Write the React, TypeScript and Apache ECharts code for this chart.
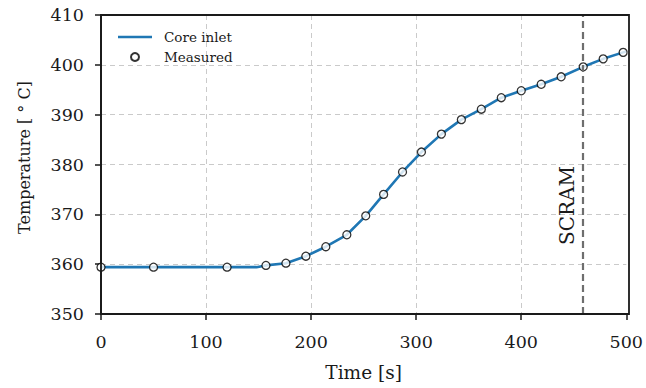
import React, { useEffect, useRef } from "react";
import * as echarts from "echarts";

const measuredTime = [0, 50, 120, 157, 176, 195, 214, 234, 252, 269, 287, 305, 324, 343, 362, 381, 400, 419, 438, 459, 478, 497];
const measuredTemp = [359.4, 359.4, 359.4, 359.75, 360.2, 361.6, 363.5, 365.9, 369.7, 374.0, 378.5, 382.5, 386.1, 389.0, 391.1, 393.4, 394.8, 396.1, 397.6, 399.6, 401.2, 402.5];

const coreTime = [0, 50, 120, 148, 157, 176, 195, 214, 234, 252, 269, 287, 305, 324, 343, 362, 381, 400, 419, 438, 459, 478, 497, 500];
const coreTemp = [359.4, 359.4, 359.4, 359.4, 359.75, 360.2, 361.6, 363.5, 365.9, 369.7, 374.0, 378.5, 382.5, 386.1, 389.0, 391.1, 393.4, 394.8, 396.1, 397.6, 399.6, 401.2, 402.5, 402.7];

const scramTime = 459;
const scramLabel = "SCRAM";

const xTicks = { min: 0, max: 500, interval: 100 };
const yTicks = { min: 350, max: 410, interval: 10 };

const FONT = "DejaVu Serif";
const INK = "#1a1a1a";

const GRID = { left: 101, right: 17, top: 15, bottom: 74 };
const W = 646;
const H = 388;

export default function App() {
  const ref = useRef<HTMLDivElement>(null);

  useEffect(() => {
    if (!ref.current) return;
    const chart = echarts.init(ref.current, null, { renderer: "svg" });
    const axisCommon = {
      axisLine: { show: true, lineStyle: { color: INK, width: 1.8 } },
      axisTick: { show: true, length: 6, lineStyle: { color: INK, width: 1.5 } },
      splitLine: { show: true, showMinLine: false, showMaxLine: false, lineStyle: { color: "#cacaca", width: 1, type: [5, 4] } },
    };
    chart.setOption({
      animation: false,
      backgroundColor: "#ffffff",
      textStyle: { fontFamily: FONT, color: INK },
      grid: { ...GRID },
      graphic: [
        {
          type: "rect",
          silent: true,
          z: 100,
          shape: { x: GRID.left, y: GRID.top, width: W - GRID.left - GRID.right, height: H - GRID.top - GRID.bottom },
          style: { fill: "none", stroke: INK, lineWidth: 1.8 },
        },
      ],
      legend: {
        orient: "vertical",
        left: 113,
        top: 25,
        itemWidth: 34,
        itemHeight: 8,
        itemGap: 6,
        textStyle: { fontFamily: FONT, fontSize: 13.5, color: INK, padding: [0, 0, 0, 7] },
        data: [
          { name: "Core inlet", icon: "path://M0,0 L34,0 L34,2.6 L0,2.6 Z" },
          { name: "Measured", icon: "circle" },
        ],
      },
      xAxis: {
        type: "value",
        min: xTicks.min,
        max: xTicks.max,
        interval: xTicks.interval,
        name: "Time [s]",
        nameLocation: "middle",
        nameGap: 49,
        nameTextStyle: { fontFamily: FONT, fontSize: 18.5, color: INK },
        axisLabel: { fontFamily: FONT, fontSize: 17.5, color: INK, margin: 19 },
        ...axisCommon,
      },
      yAxis: {
        type: "value",
        min: yTicks.min,
        max: yTicks.max,
        interval: yTicks.interval,
        name: "Temperature [ ° C]",
        nameLocation: "middle",
        nameGap: 69,
        nameTextStyle: { fontFamily: FONT, fontSize: 16, color: INK, padding: [0, 0, 0, 14] },
        axisLabel: { fontFamily: FONT, fontSize: 17.5, color: INK, margin: 17 },
        ...axisCommon,
      },
      series: [
        {
          name: "Core inlet",
          type: "line",
          data: coreTime.map((t, i) => [t, coreTemp[i]]),
          showSymbol: false,
          symbol: "none",
          lineStyle: { color: "#1f77b4", width: 2.6 },
          itemStyle: { color: "#1f77b4" },
          z: 2,
          markLine: {
            silent: true,
            symbol: ["none", "none"],
            lineStyle: { color: "#6e6e6e", width: 2.2, type: [7, 4] },
            label: {
              show: true,
              formatter: scramLabel,
              position: "insideStartTop",
              distance: [69, 6],
              fontFamily: FONT,
              fontSize: 20,
              color: INK,
            },
            data: [{ xAxis: scramTime }],
          },
        },
        {
          name: "Measured",
          type: "scatter",
          data: measuredTime.map((t, i) => [t, measuredTemp[i]]),
          symbol: "circle",
          symbolSize: 8,
          itemStyle: { color: "#ffffff", borderColor: "#000000", borderWidth: 1.3 },
          z: 3,
        },
      ],
    });
    return () => chart.dispose();
  }, []);

  return <div ref={ref} style={{ position: "fixed", left: 0, top: 0, width: W, height: H }} />;
}
